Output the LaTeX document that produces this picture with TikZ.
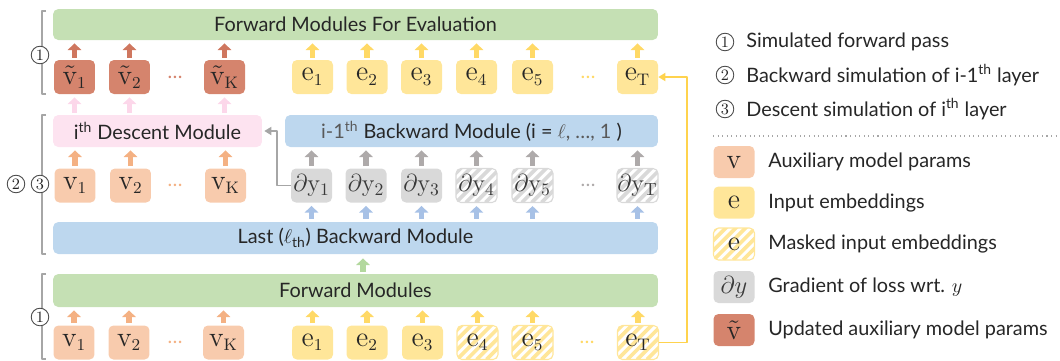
\RequirePackage{fix-cm}
\documentclass[tikz,border=0pt]{standalone}
\usepackage{amsmath}
\usepackage[no-math]{fontspec}
\setmainfont{Lato}
\usepackage{xcolor}
\usetikzlibrary{arrows.meta,calc}
\DeclareMathSizes{16}{16}{9.5}{7}
\DeclareMathSizes{14}{14}{10}{7}

\definecolor{inkc}{HTML}{262626}
\definecolor{txtgrey}{HTML}{595959}
\definecolor{dytxt}{HTML}{3A3A3A}
\definecolor{fgreen}{HTML}{C5E0B4}
\definecolor{garrow}{HTML}{B3D89E}
\definecolor{bblue}{HTML}{BDD7EE}
\definecolor{barrow}{HTML}{A7C1E6}
\definecolor{dpink}{HTML}{FDE3F0}
\definecolor{parrow}{HTML}{FCD7EA}
\definecolor{vpeach}{HTML}{F8CBAD}
\definecolor{varrow}{HTML}{F4B183}
\definecolor{vdark}{HTML}{D5846D}
\definecolor{vdarkarrow}{HTML}{CF775F}
\definecolor{eyellow}{HTML}{FFE699}
\definecolor{earrow}{HTML}{FFD966}
\definecolor{yconn}{HTML}{FFD34E}
\definecolor{dgrey}{HTML}{D9D9D9}
\definecolor{darrow}{HTML}{AEAAAA}
\definecolor{brkgrey}{HTML}{A6A6A6}

\begin{document}
\begin{tikzpicture}[x=0.02cm,y=-0.02cm,line join=round,
  font=\fontsize{11.3}{13}\selectfont,text=inkc,
  bar/.style={rounded corners=3pt,minimum height=0.64cm,inner sep=0pt},
  box/.style={rounded corners=2.8pt,minimum width=0.82cm,minimum height=0.68cm,inner sep=0pt,font=\fontsize{16}{16}\selectfont},
  gbox/.style={box,font=\fontsize{14}{14}\selectfont,text=dytxt},
  mask/.style={fill=white,draw=#1,line width=0.6pt,
    path picture={\foreach \k in {-6,...,5}{\draw[#1,line width=2.1pt] ([xshift=\k*5.6pt]path picture bounding box.south west) -- ++(1.2cm,1.2cm);}}},
  uparr/.style={draw=#1,line width=3.2pt,-{Triangle[width=7.6pt,length=3.8pt]}},
  conn/.style={draw=#1,line width=0.9pt,-{Triangle[width=4.6pt,length=4pt]}},
  brk/.style={draw=brkgrey,line width=0.9pt},
  numc/.style={circle,draw=inkc!85,line width=0.5pt,fill=white,inner sep=0pt,minimum size=10pt,font=\fontsize{9}{9}\selectfont},
  legtxt/.style={anchor=west,inner sep=0pt}]
  \useasboundingbox (0,0) rectangle (1060,360);

  % top: simulated forward pass for evaluation
  \node[bar,fill=fgreen,minimum width=12.1cm,minimum height=0.62cm] (evalbar) at (355.5,24.5) {Forward Modules For Evaluation};
  \foreach \i/\x in {1/74.5,2/129.5,K/224.5}
    \node[box,fill=vdark] (vt\i) at (\x,77) {$\tilde{\mathrm{v}}_{\mathrm{\i}}$};
  \node[text=vdark] (vtdots) at (175,77) {\dots};
  \foreach \i/\x in {1/312.5,2/367,3/421.5,4/476.5,5/532.5,T/637.5}
    \node[box,fill=eyellow] (et\i) at (\x,77) {$\mathrm{e}_{\mathrm{\i}}$};
  \node[text=earrow] (etdots) at (588,77) {\dots};
  \foreach \i in {1,2,K}
    \draw[uparr=vdarkarrow] ($(vt\i.north)+(0,-2)$) -- ($(vt\i.north |- evalbar.south)+(0,3)$);
  \foreach \i in {1,2,3,4,5,T}
    \draw[uparr=earrow] ($(et\i.north)+(0,-2)$) -- ($(et\i.north |- evalbar.south)+(0,3)$);

  % middle: descent and backward simulation
  \node[bar,fill=dpink,minimum width=4.18cm] (descent) at (157.5,131) {i\textsuperscript{th} Descent Module};
  \node[bar,fill=bblue,minimum width=7.46cm] (backi) at (471.5,131) {{\color{txtgrey}i-1\textsuperscript{th}} Backward Module (i = {\color{txtgrey}$\ell$, \dots, 1} )};
  \foreach \i in {1,2,K}
    \draw[uparr=parrow] ($(vt\i.south |- descent.north)+(0,-2)$) -- ($(vt\i.south)+(0,3)$);
  \foreach \i/\x in {1/75,2/130.5,K/225.5}
    \node[box,fill=vpeach] (vm\i) at (\x,185.5) {$\mathrm{v}_{\mathrm{\i}}$};
  \node[text=varrow] (vmdots) at (175,185.5) {\dots};
  \foreach \i/\x in {1/311.5,2/366,3/421.5}
    \node[gbox,fill=dgrey] (dy\i) at (\x,185.5) {$\partial\mathrm{y}_{\i}$};
  \foreach \i/\x in {4/476.5,5/532.5,T/637.5}
    \node[gbox,mask=dgrey] (dy\i) at (\x,185.5) {$\partial\mathrm{y}_{\mathrm{\i}}$};
  \node[text=darrow] (dydots) at (588,185.5) {\dots};
  \foreach \i in {1,2,K}
    \draw[uparr=varrow] ($(vm\i.north)+(0,-2)$) -- ($(vm\i.north |- descent.south)+(0,3)$);
  \foreach \i in {1,2,3,4,5,T}
    \draw[uparr=darrow] ($(dy\i.north)+(0,-2)$) -- ($(dy\i.north |- backi.south)+(0,3)$);

  \node[bar,fill=bblue,minimum width=12.1cm] (lastbar) at (355.5,238) {Last ($\ell_{\text{th}}$) Backward Module};
  \foreach \i in {1,2,3,4,5,T}
    \draw[uparr=barrow] ($(dy\i.south |- lastbar.north)+(0,-3)$) -- ($(dy\i.south)+(0,3)$);

  % bottom: simulated forward pass
  \node[bar,fill=fgreen,minimum width=12.1cm,minimum height=0.66cm] (fwdbar) at (355.5,290.5) {Forward Modules};
  \draw[uparr=garrow] ($(fwdbar.north)+(7.5,-2)$) -- ($(lastbar.south)+(7.5,4)$);
  \foreach \i/\x in {1/74,2/129,K/223.5}
    \node[box,fill=vpeach] (vb\i) at (\x,342.5) {$\mathrm{v}_{\mathrm{\i}}$};
  \node[text=varrow] (vbdots) at (175,342.5) {\dots};
  \foreach \i/\x in {1/312.5,2/367,3/422.5}
    \node[box,fill=eyellow] (eb\i) at (\x,342.5) {$\mathrm{e}_{\i}$};
  \foreach \i/\x in {4/477.5,5/532.5,T/638}
    \node[box,mask=eyellow] (eb\i) at (\x,342.5) {$\mathrm{e}_{\mathrm{\i}}$};
  \node[text=earrow] (ebdots) at (587,342.5) {\dots};
  \foreach \i in {1,2,K}
    \draw[uparr=varrow] ($(vb\i.north)+(0,-2)$) -- ($(vb\i.north |- fwdbar.south)+(0,3)$);
  \foreach \i in {1,2,3,4,5,T}
    \draw[uparr=earrow] ($(eb\i.north)+(0,-2)$) -- ($(eb\i.north |- fwdbar.south)+(0,3)$);

  % connectors
  \coordinate (ycorner) at (687,342.5);
  \draw[conn=yconn] (ebT.east) -- (ycorner) |- (etT.east);
  \coordinate (gcorner) at (277,185.5);
  \draw[conn=brkgrey] (dy1.west) -- (gcorner) |- ($(descent.east)+(2,0)$);

  % brackets
  \draw[brk] (46,11) -- (42,11) -- (42,94) -- (46,94);
  \node[numc] (b1top) at (40,55) {$1$};
  \draw[brk] (46,115) -- (42,115) -- (42,254) -- (46,254);
  \node[numc] (b2mid) at (16,184) {$2$};
  \node[numc] (b3mid) at (40,184) {$3$};
  \draw[brk] (46,274) -- (42,274) -- (42,359) -- (46,359);
  \node[numc] (b1bot) at (40,317) {$1$};

  % legend
  \node[numc] (l1) at (725,42) {$1$};
  \node[legtxt] (l1txt) at (746,42) {Simulated forward pass};
  \node[numc] (l2) at (725,75) {$2$};
  \node[legtxt] (l2txt) at (746,75) {Backward simulation of i-1\textsuperscript{th} layer};
  \node[numc] (l3) at (725,109) {$3$};
  \node[legtxt] (l3txt) at (746,109) {Descent simulation of i\textsuperscript{th} layer};
  \draw[brkgrey,dotted,line width=0.6pt] (713,136) -- (1058,136);
  \node[box,fill=vpeach,minimum height=0.64cm] (lv) at (734,162) {$\mathrm{v}$};
  \node[legtxt] (lvtxt) at (768,162) {Auxiliary model params};
  \node[box,fill=eyellow,minimum height=0.64cm] (le) at (734,202.5) {$\mathrm{e}$};
  \node[legtxt] (letxt) at (768,202.5) {Input embeddings};
  \node[box,mask=eyellow,minimum height=0.64cm] (lm) at (734,244) {$\mathrm{e}$};
  \node[legtxt] (lmtxt) at (768,244) {Masked input embeddings};
  \node[gbox,fill=dgrey,minimum height=0.64cm] (ld) at (734,287) {$\partial y$};
  \node[legtxt] (ldtxt) at (768,287) {Gradient of loss wrt. $y$};
  \node[box,fill=vdark,minimum height=0.64cm] (lu) at (734,330) {$\tilde{\mathrm{v}}$};
  \node[legtxt] (lutxt) at (768,330) {Updated auxiliary model params};
\end{tikzpicture}
\end{document}
